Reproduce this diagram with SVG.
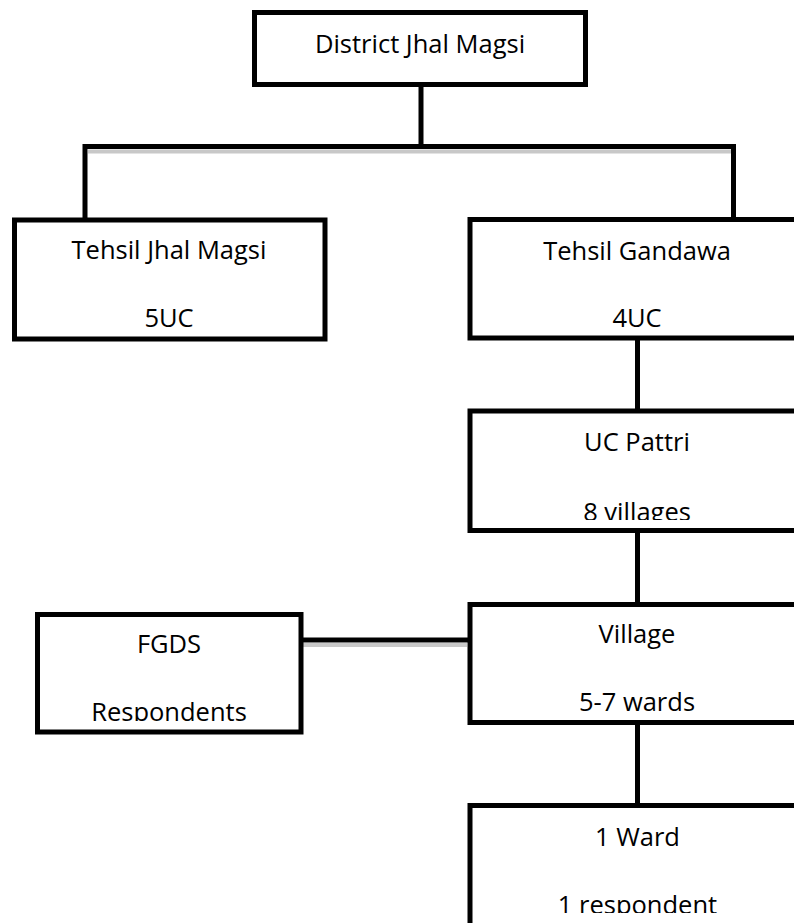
<svg xmlns="http://www.w3.org/2000/svg" width="794" height="923" viewBox="0 0 794 923">
  <style>
    .box { fill: #ffffff; stroke: #000000; stroke-width: 5; }
    .line { stroke: #000000; stroke-width: 5; fill: none; }
    .shade { stroke: #c8c8c8; stroke-width: 4; fill: none; }
    .label { font-family: "Open Sans", "Liberation Sans", sans-serif; font-size: 25.5px; fill: #000000; text-anchor: middle; }
  </style>
  <defs>
    <clipPath id="clip-pattri"><rect x="470" y="411" width="330" height="109"/></clipPath>
    <clipPath id="clip-fgds"><rect x="37" y="614" width="264" height="107"/></clipPath>
    <clipPath id="clip-village"><rect x="470" y="604" width="330" height="110"/></clipPath>
    <clipPath id="clip-ward"><rect x="470" y="805" width="330" height="108"/></clipPath>
  </defs>

  <!-- connectors -->
  <g id="connectors">
    <line class="shade" x1="88" y1="151.5" x2="731" y2="151.5"/>
    <line class="shade" x1="303" y1="645" x2="467" y2="645"/>
    <line class="line" x1="421" y1="80" x2="421" y2="147"/>
    <polyline class="line" points="85,220 85,146.5 733.5,146.5 733.5,220"/>
    <line class="line" x1="637.5" y1="338" x2="637.5" y2="411"/>
    <line class="line" x1="637.5" y1="530" x2="637.5" y2="604.5"/>
    <line class="line" x1="637.5" y1="722" x2="637.5" y2="805.5"/>
    <line class="line" x1="301" y1="640" x2="470" y2="640"/>
  </g>

  <!-- nodes -->
  <g id="district">
    <rect class="box" x="254.5" y="12.5" width="331" height="72"/>
    <text class="label" x="420" y="53">District Jhal Magsi</text>
  </g>

  <g id="tehsil-jhal-magsi">
    <rect class="box" x="14.5" y="220" width="310.5" height="119"/>
    <text class="label" x="169" y="259">Tehsil Jhal Magsi</text>
    <text class="label" x="169" y="327">5UC</text>
  </g>

  <g id="tehsil-gandawa">
    <rect class="box" x="470" y="219.5" width="340" height="118.5"/>
    <text class="label" x="637" y="260">Tehsil Gandawa</text>
    <text class="label" x="637" y="327">4UC</text>
  </g>

  <g id="uc-pattri">
    <rect class="box" x="470" y="411" width="340" height="119.5"/>
    <g clip-path="url(#clip-pattri)">
      <text class="label" x="637" y="451">UC Pattri</text>
      <text class="label" x="637" y="521">8 villages</text>
    </g>
  </g>

  <g id="fgds">
    <rect class="box" x="37.5" y="614.5" width="263.5" height="117.5"/>
    <g clip-path="url(#clip-fgds)">
      <text class="label" x="169" y="653">FGDS</text>
      <text class="label" x="169" y="721">Respondents</text>
    </g>
  </g>

  <g id="village">
    <rect class="box" x="470" y="604.5" width="340" height="118"/>
    <g clip-path="url(#clip-village)">
      <text class="label" x="637" y="643">Village</text>
      <text class="label" x="637" y="711">5-7 wards</text>
    </g>
  </g>

  <g id="ward">
    <rect class="box" x="470" y="805.5" width="340" height="130"/>
    <g clip-path="url(#clip-ward)">
      <text class="label" x="637.5" y="846">1 Ward</text>
      <text class="label" x="637.5" y="914">1 respondent</text>
    </g>
  </g>
</svg>
